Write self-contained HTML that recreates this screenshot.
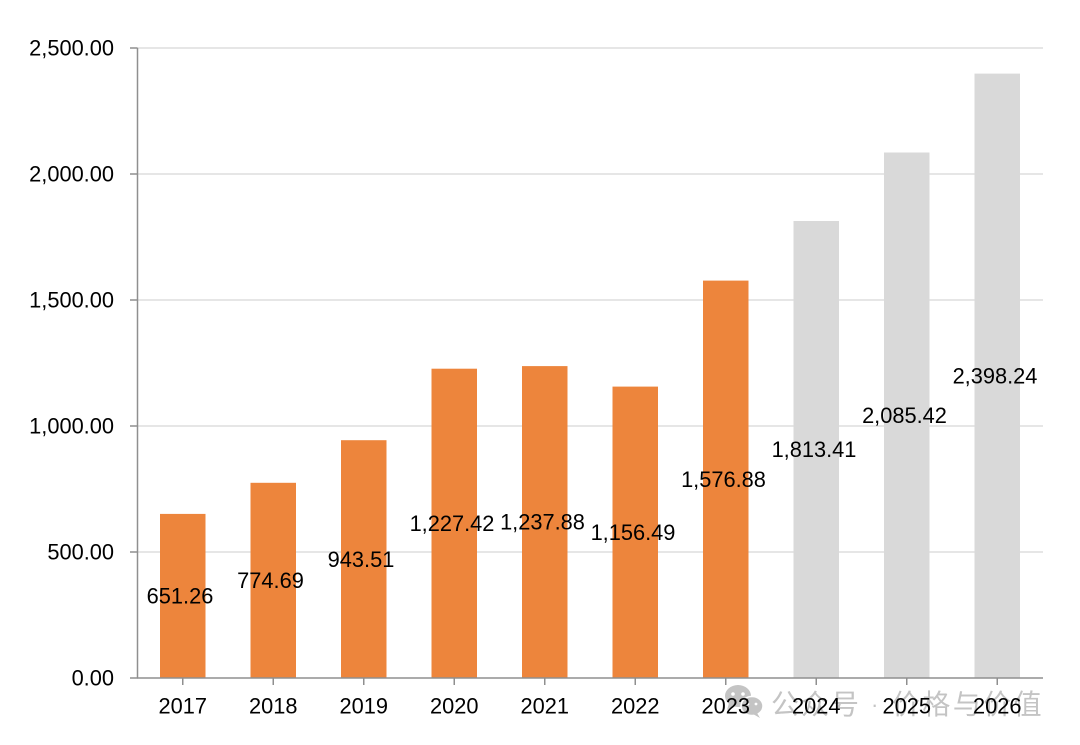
<!DOCTYPE html>
<html><head><meta charset="utf-8"><style>
html,body{margin:0;padding:0;background:#fff;}
svg{display:block;}
text{font-family:"Liberation Sans","Noto Sans CJK SC",sans-serif;}
</style></head><body>
<svg width="1080" height="745" viewBox="0 0 1080 745" xmlns="http://www.w3.org/2000/svg">
<g stroke="#dedede" stroke-width="1.5">
<line x1="137.5" y1="48" x2="1043" y2="48"/>
<line x1="137.5" y1="174" x2="1043" y2="174"/>
<line x1="137.5" y1="300" x2="1043" y2="300"/>
<line x1="137.5" y1="426" x2="1043" y2="426"/>
<line x1="137.5" y1="552" x2="1043" y2="552"/>
</g>
<g fill="#ED853C">
<rect x="160" y="513.9" width="45.5" height="164.1"/>
<rect x="250.5" y="482.8" width="45.5" height="195.2"/>
<rect x="341" y="440.2" width="45.5" height="237.8"/>
<rect x="431.5" y="368.7" width="45.5" height="309.3"/>
<rect x="522" y="366.1" width="45.5" height="311.9"/>
<rect x="612.5" y="386.6" width="45.5" height="291.4"/>
<rect x="703" y="280.6" width="45.5" height="397.4"/>
</g>
<g fill="#D9D9D9">
<rect x="793.5" y="221" width="45.5" height="457"/>
<rect x="884" y="152.5" width="45.5" height="525.5"/>
<rect x="974.5" y="73.6" width="45.5" height="604.4"/>
</g>
<g stroke="#8f8f8f" stroke-width="1.5">
<line x1="137.5" y1="48" x2="137.5" y2="678"/>
<line x1="137" y1="678" x2="1043" y2="678"/>
<line x1="130" y1="48" x2="137.5" y2="48"/>
<line x1="130" y1="174" x2="137.5" y2="174"/>
<line x1="130" y1="300" x2="137.5" y2="300"/>
<line x1="130" y1="426" x2="137.5" y2="426"/>
<line x1="130" y1="552" x2="137.5" y2="552"/>
<line x1="130" y1="678" x2="137.5" y2="678"/>
<line x1="182.75" y1="678" x2="182.75" y2="685"/>
<line x1="273.25" y1="678" x2="273.25" y2="685"/>
<line x1="363.75" y1="678" x2="363.75" y2="685"/>
<line x1="454.25" y1="678" x2="454.25" y2="685"/>
<line x1="544.75" y1="678" x2="544.75" y2="685"/>
<line x1="635.25" y1="678" x2="635.25" y2="685"/>
<line x1="725.75" y1="678" x2="725.75" y2="685"/>
<line x1="816.25" y1="678" x2="816.25" y2="685"/>
<line x1="906.75" y1="678" x2="906.75" y2="685"/>
<line x1="997.25" y1="678" x2="997.25" y2="685"/>
</g>
<g font-size="21.8" fill="#000" text-anchor="end">
<text x="114" y="55.7">2,500.00</text>
<text x="114" y="181.7">2,000.00</text>
<text x="114" y="307.7">1,500.00</text>
<text x="114" y="433.7">1,000.00</text>
<text x="114" y="559.7">500.00</text>
<text x="114" y="685.7">0.00</text>
</g>
<!-- watermark -->
<g opacity="0.5">
<g fill="#8a8a8a">
<ellipse cx="738" cy="696" rx="13" ry="11"/>
<path d="M729 703 L727 710 L734 705 Z"/>
<ellipse cx="752" cy="706" rx="11" ry="9.5" stroke="#fff" stroke-width="1.5"/>
<path d="M757 713 L760 718 L753 714 Z"/>
</g>
<g fill="#fff">
<circle cx="733" cy="694" r="1.8"/><circle cx="743" cy="694" r="1.8"/>
<circle cx="748" cy="704" r="1.4"/><circle cx="756" cy="704" r="1.4"/>
</g>
<text x="771" y="714" font-size="28" fill="#8a8a8a" letter-spacing="2">公众号</text>
<text x="871" y="712" font-size="22" fill="#8a8a8a">·</text>
<text x="892" y="714" font-size="28" fill="#8a8a8a" letter-spacing="2.4">价格与价值</text>
</g>
<g font-size="21.8" fill="#000" text-anchor="middle">
<text x="182.75" y="713.7">2017</text>
<text x="273.25" y="713.7">2018</text>
<text x="363.75" y="713.7">2019</text>
<text x="454.25" y="713.7">2020</text>
<text x="544.75" y="713.7">2021</text>
<text x="635.25" y="713.7">2022</text>
<text x="725.75" y="713.7">2023</text>
<text x="816.25" y="713.7">2024</text>
<text x="906.75" y="713.7">2025</text>
<text x="997.25" y="713.7">2026</text>
</g>
<g font-size="21.8" fill="#000" text-anchor="middle">
<text x="180" y="603.6">651.26</text>
<text x="270.5" y="588.1">774.69</text>
<text x="361" y="566.8">943.51</text>
<text x="452" y="531">1,227.42</text>
<text x="542.5" y="529.7">1,237.88</text>
<text x="633" y="540">1,156.49</text>
<text x="723.5" y="487">1,576.88</text>
<text x="814" y="457.2">1,813.41</text>
<text x="904.5" y="422.9">2,085.42</text>
<text x="995" y="383.5">2,398.24</text>
</g>
</svg>
</body></html>
